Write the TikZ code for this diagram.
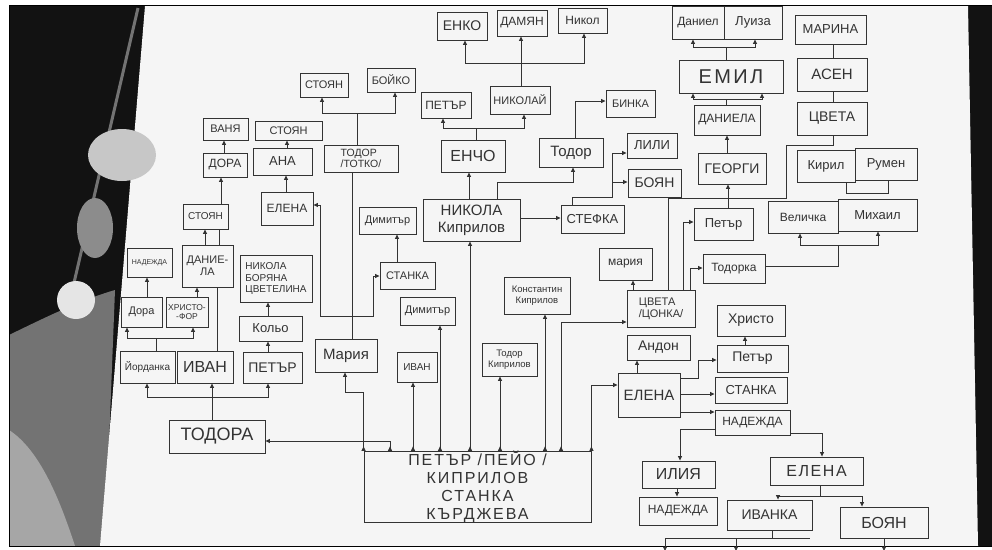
\documentclass[tikz,border=0pt]{standalone}
\usepackage{fontspec}
\setmainfont{Liberation Sans}
\usetikzlibrary{arrows.meta}
\definecolor{ink}{gray}{0.2}
\definecolor{paper}{gray}{0.96}
\newcommand\fz[1]{\fontsize{#1}{\fpeval{1.12*#1}}\selectfont}
\newcommand\mybox[7][]{%
  \pgfmathsetmacro\bxw{#5-#3}\pgfmathsetmacro\bxh{#6-#4}%
  \node[box,minimum width=\bxw pt,minimum height=\bxh pt,#1] (#2) at ({(#3+#5)/2},{(#4+#6)/2}) {#7};}
\begin{document}
\begin{tikzpicture}[x=1pt,y=-1pt,
  box/.style={draw=ink,line width=0.9pt,inner sep=0pt,align=center,text=ink},
  ln/.style={draw=ink,line width=0.8pt},
  ar/.style={ln,-{Triangle[length=4.5pt,width=4pt]}},
  dar/.style={ln,{Triangle[length=4.5pt,width=4pt,reversed]}-{Triangle[length=4.5pt,width=4pt]}}]
\clip (0,0) rectangle (992,549);
% photo background
\fill[white] (0,0) rectangle (992,549);
\fill[black!93] (9,5) rectangle (992,546);
\fill[black!55] (9,335) .. controls (40,320) and (80,300) .. (115,290) -- (105,546) -- (9,546) -- cycle;
\fill[black!35] (9,430) .. controls (40,450) and (60,500) .. (75,546) -- (9,546) -- cycle;
\draw[black!55,line width=3pt] (138,8) -- (70,300);
\fill[paper] (145,6) -- (968,6) -- (978,546) -- (100,546) -- cycle;
\fill[black!22] (122,155) ellipse [x radius=34, y radius=26];
\fill[black!45] (95,228) ellipse [x radius=18, y radius=30];
\fill[black!10] (76,300) circle [radius=19];
\draw[black,line width=0.8pt] (9,5) rectangle (992,546);

% ---------------- boxes ----------------
\mybox[font=\fz{14}]{enko}{437}{12}{487}{40}{ЕНКО}
\mybox[font=\fz{12}]{damyan}{497}{10}{547}{36}{ДАМЯН}
\mybox[font=\fz{12}]{nikol}{558}{8}{607}{33}{Никол}
\mybox[font=\fz{12}]{petar1}{421}{92}{471}{118}{ПЕТЪР}
\mybox[font=\fz{11}]{nikolay}{490}{86}{550}{114}{НИКОЛАЙ}
\mybox[font=\fz{16}]{encho}{441}{140}{505}{172}{ЕНЧО}
\mybox[font=\fz{11}]{stoyan1}{300}{73}{348}{97}{СТОЯН}
\mybox[font=\fz{11}]{boyko}{367}{68}{415}{92}{БОЙКО}
\mybox[font=\fz{10.5},align=left]{totko}{324}{145}{398}{172}{ТОДОР\\/ТОТКО/}
\mybox[font=\fz{15}]{todor2}{539}{138}{603}{167}{Тодор}
\mybox[font=\fz{11}]{binka}{606}{90}{655}{117}{БИНКА}
\mybox[font=\fz{13}]{lili}{627}{133}{677}{158}{ЛИЛИ}
\mybox[font=\fz{14}]{boyan1}{628}{169}{681}{197}{БОЯН}
\mybox[font=\fz{13}]{stefka}{561}{205}{624}{233}{СТЕФКА}
\mybox[font=\fz{15}]{nikola}{423}{199}{520}{241}{НИКОЛА\\Киприлов}
\mybox[font=\fz{11}]{vanya}{203}{118}{248}{140}{ВАНЯ}
\mybox[font=\fz{12}]{dora1}{203}{153}{247}{177}{ДОРА}
\mybox[font=\fz{11}]{stoyan2}{255}{121}{322}{140}{СТОЯН}
\mybox[font=\fz{13}]{ana}{253}{148}{312}{175}{АНА}
\mybox[font=\fz{12}]{elena1}{261}{192}{313}{225}{ЕЛЕНА}
\mybox[font=\fz{10}]{stoyan3}{183}{204}{228}{229}{СТОЯН}
\mybox[font=\fz{7}]{nadezhda1}{127}{248}{172}{277}{НАДЕЖДА}
\mybox[font=\fz{11}]{daniela1}{182}{245}{233}{287}{ДАНИЕ-\\ЛА}
\mybox[font=\fz{10},align=left]{nbc}{240}{255}{312}{302}{НИКОЛА\\БОРЯНА\\ЦВЕТЕЛИНА}
\mybox[font=\fz{11}]{dora2}{121}{297}{162}{327}{Дора}
\mybox[font=\fz{8.5}]{hristofor}{166}{297}{208}{327}{ХРИСТО-\\-ФОР}
\mybox[font=\fz{13}]{kolyo}{239}{316}{302}{341}{Кольо}
\mybox[font=\fz{10}]{yordanka}{120}{351}{175}{383}{Йорданка}
\mybox[font=\fz{16}]{ivan1}{177}{351}{233}{383}{ИВАН}
\mybox[font=\fz{14}]{petar2}{243}{352}{302}{383}{ПЕТЪР}
\mybox[font=\fz{18}]{todora}{169}{420}{265}{453}{ТОДОРА}
\mybox[font=\fz{11}]{dimitar1}{359}{207}{416}{234}{Димитър}
\mybox[font=\fz{11}]{stanka1}{380}{262}{435}{289}{СТАНКА}
\mybox[font=\fz{15}]{maria1}{315}{339}{377}{372}{Мария}
\mybox[font=\fz{11}]{dimitar2}{400}{297}{455}{325}{Димитър}
\mybox[font=\fz{10}]{ivan2}{397}{352}{437}{382}{ИВАН}
\mybox[font=\fz{9.5}]{todork}{482}{343}{537}{376}{Тодор\\Киприлов}
\mybox[font=\fz{9.5}]{konst}{504}{277}{570}{314}{Константин\\Киприлов}
\mybox[font=\fz{16}\addfontfeatures{LetterSpace=12}]{main}{364}{452}{591}{522}{ПЕТЪР /ПЕЙО /\\КИПРИЛОВ\\СТАНКА\\КЪРДЖЕВА}
\mybox[font=\fz{12}]{daniel}{672}{6}{724}{39}{Даниел}
\mybox[font=\fz{13}]{luiza}{724}{6}{782}{39}{Луиза}
\mybox[font=\fz{20}\addfontfeatures{LetterSpace=12}]{emil}{679}{60}{783}{93}{ЕМИЛ}
\mybox[font=\fz{12}]{daniela2}{694}{105}{760}{135}{ДАНИЕЛА}
\mybox[font=\fz{14}]{georgi}{698}{153}{766}{184}{ГЕОРГИ}
\mybox[font=\fz{13}]{marina}{795}{15}{866}{44}{МАРИНА}
\mybox[font=\fz{15}]{asen}{797}{58}{867}{91}{АСЕН}
\mybox[font=\fz{14}]{tsveta1}{797}{102}{867}{135}{ЦВЕТА}
\mybox[font=\fz{13}]{kiril}{797}{150}{855}{182}{Кирил}
\mybox[font=\fz{13}]{rumen}{855}{148}{917}{180}{Румен}
\mybox[font=\fz{12}]{velichka}{768}{201}{838}{233}{Величка}
\mybox[font=\fz{13}]{mihail}{838}{199}{917}{231}{Михаил}
\mybox[font=\fz{13}]{petar3}{694}{208}{753}{240}{Петър}
\mybox[font=\fz{12}]{todorka}{703}{254}{765}{283}{Тодорка}
\mybox[font=\fz{12}]{maria2}{599}{248}{652}{280}{мария}
\mybox[font=\fz{11},align=left]{tsonka}{627}{290}{695}{327}{ЦВЕТА\\/ЦОНКА/}
\mybox[font=\fz{14}]{andon}{627}{335}{690}{360}{Андон}
\mybox[font=\fz{14}]{hristo}{717}{305}{785}{336}{Христо}
\mybox[font=\fz{14}]{petar4}{717}{345}{788}{372}{Петър}
\mybox[font=\fz{15}]{elena2}{618}{373}{680}{417}{ЕЛЕНА}
\mybox[font=\fz{13}]{stanka2}{715}{377}{787}{403}{СТАНКА}
\mybox[font=\fz{12}]{nadezhda2}{715}{410}{790}{435}{НАДЕЖДА}
\mybox[font=\fz{16}]{iliya}{642}{461}{715}{488}{ИЛИЯ}
\mybox[font=\fz{16}\addfontfeatures{LetterSpace=10}]{elena3}{770}{457}{863}{485}{ЕЛЕНА}
\mybox[font=\fz{12}]{nadezhda3}{639}{497}{717}{525}{НАДЕЖДА}
\mybox[font=\fz{14}]{ivanka}{727}{500}{812}{530}{ИВАНКА}
\mybox[font=\fz{16}]{boyan2}{840}{507}{928}{538}{БОЯН}

% ---------------- connectors ----------------
\draw[ar] (nikolay.north -| 521,0) |- (465,63) -- (enko.south -| 465,0);
\draw[ar] (nikolay.north -| 521,0) -- (damyan.south -| 521,0);
\draw[ar] (nikolay.north -| 521,0) |- (584,63) -- (nikol.south -| 584,0);
\draw[ar] (encho.north -| 476,0) |- (443,128) -- (petar1.south -| 443,0);
\draw[ar] (encho.north -| 476,0) |- (524,128) -- (nikolay.south -| 524,0);
\draw[ar] (totko.north -| 357,0) |- (322,113) -- (stoyan1.south -| 322,0);
\draw[ar] (totko.north -| 357,0) |- (395,113) -- (boyko.south -| 395,0);
\draw[ar] (nikola.north -| 469,0) -- (encho.south -| 469,0);
\draw[ar] (nikola.north -| 497,0) |- (573,182) -- (todor2.south -| 573,0);
\draw[ar] (nikola.east |- 0,218) -- (stefka.west |- 0,218);
\draw[ar] (todor2.north -| 575,0) |- (binka.west |- 0,101);
\draw[ar] (stefka.north -| 572,0) |- (612,197) |- (lili.west |- 0,153);
\draw[ar] (stefka.north -| 572,0) |- (612,197) |- (boyan1.west |- 0,182);
\draw[dar] (main.north west) |- (345,392) -- (maria1.south -| 345,0);
\draw[dar] (main.north -| 390,0) |- (todora.east |- 0,441);
\draw[dar] (main.north -| 413,0) -- (ivan2.south -| 413,0);
\draw[dar] (main.north -| 440,0) -- (dimitar2.south -| 440,0);
\draw[dar] (main.north -| 470,0) -- (nikola.south -| 470,0);
\draw[dar] (main.north -| 500,0) -- (todork.south -| 500,0);
\draw[dar] (main.north -| 545,0) -- (konst.south -| 545,0);
\draw[dar] (main.north -| 561,0) |- (tsonka.west |- 0,322);
\draw[dar] (main.north east) |- (elena2.west |- 0,385);
\draw[ln] (maria1.north -| 352,0) -- (totko.south -| 352,0);
\draw[ar] (maria1.north -| 352,0) |- (320,316) |- (elena1.east |- 0,205);
\draw[ar] (maria1.north -| 352,0) |- (373,316) |- (stanka1.west |- 0,276);
\draw[ar] (stanka1.north -| 397,0) -- (dimitar1.south -| 397,0);
\draw[ar] (elena1.north -| 286,0) -- (ana.south -| 286,0);
\draw[ar] (ana.north -| 287,0) -- (stoyan2.south -| 287,0);
\draw[ar] (todora.north -| 212,0) |- (147,397) -- (yordanka.south -| 147,0);
\draw[ar] (todora.north -| 212,0) -- (ivan1.south -| 212,0);
\draw[ar] (todora.north -| 212,0) |- (268,397) -- (petar2.south -| 268,0);
\draw[ar] (petar2.north -| 268,0) -- (kolyo.south -| 268,0);
\draw[ar] (kolyo.north -| 268,0) -- (nbc.south -| 268,0);
\draw[ar] (yordanka.north -| 156,0) |- (127,338) -- (dora2.south -| 127,0);
\draw[ar] (yordanka.north -| 156,0) |- (193,338) -- (hristofor.south -| 193,0);
\draw[ar] (dora2.north -| 147,0) -- (nadezhda1.south -| 147,0);
\draw[ar] (hristofor.north -| 197,0) -- (daniela1.south -| 197,0);
\draw[ln] (ivan1.north -| 217,0) -- (daniela1.south -| 217,0);
\draw[ln] (daniela1.north -| 219,0) -- (stoyan3.south -| 219,0);
\draw[ar] (daniela1.north -| 205,0) -- (stoyan3.south -| 205,0);
\draw[ar] (stoyan3.north -| 221,0) -- (dora1.south -| 221,0);
\draw[ar] (dora1.north -| 224,0) -- (vanya.south -| 224,0);
\draw[ar] (emil.north -| 726,0) |- (693,47) -- (daniel.south -| 693,0);
\draw[ar] (emil.north -| 726,0) |- (755,47) -- (luiza.south -| 755,0);
\draw[ar] (daniela2.north -| 726,0) |- (693,99) -- (emil.south -| 693,0);
\draw[ar] (daniela2.north -| 726,0) |- (762,99) -- (emil.south -| 762,0);
\draw[ar] (georgi.north -| 727,0) -- (daniela2.south -| 727,0);
\draw[ar] (petar3.north -| 728,0) -- (georgi.south -| 728,0);
\draw[ar] (tsonka.north -| 633,0) -- (maria2.south -| 633,0);
\draw[ar] (tsonka.north -| 683,0) |- (petar3.west |- 0,222);
\draw[ar] (tsonka.north -| 690,0) |- (todorka.west |- 0,268);
\draw[ln] (tsonka.north -| 668,0) |- (786,198) |- (833,145) -- (tsveta1.south -| 833,0);
\draw[ln] (marina.south -| 833,0) -- (asen.north -| 833,0);
\draw[ln] (asen.south -| 833,0) -- (tsveta1.north -| 833,0);
\draw[ln] (kiril.south -| 846,0) |- (888,193) -- (rumen.south -| 888,0);
\draw[ar] (todorka.east |- 0,266) -| (838,245) -| (velichka.south -| 800,0);
\draw[ar] (todorka.east |- 0,266) -| (838,245) -| (mihail.south -| 878,0);
\draw[ar] (elena2.north -| 637,0) -- (andon.south -| 637,0);
\draw[ar] (petar4.north -| 745,0) -- (hristo.south -| 745,0);
\draw[ar] (elena2.east |- 0,378) -| (698,360) -- (petar4.west |- 0,360);
\draw[ar] (elena2.east |- 0,394) -- (stanka2.west |- 0,394);
\draw[ar] (elena2.east |- 0,412) -- (nadezhda2.west |- 0,412);
\draw[ar] (nadezhda2.west |- 0,429) -| (iliya.north -| 680,0);
\draw[ar] (nadezhda2.east |- 0,433) -| (elena3.north -| 822,0);
\draw[ar] (iliya.south -| 677,0) -- (nadezhda3.north -| 677,0);
\draw[ar] (elena3.south -| 820,0) |- (778,496) -- (ivanka.north -| 778,0);
\draw[ar] (elena3.south -| 820,0) |- (862,496) -- (boyan2.north -| 862,0);
\draw[ar] (ivanka.south -| 772,0) |- (665,538) -- (665,551);
\draw[ar] (ivanka.south -| 772,0) |- (736,538) -- (736,551);
\draw[ln] (ivanka.south -| 772,0) |- (810,538);
\draw[ar] (boyan2.south -| 884,0) -- (884,551);
\end{tikzpicture}
\end{document}
